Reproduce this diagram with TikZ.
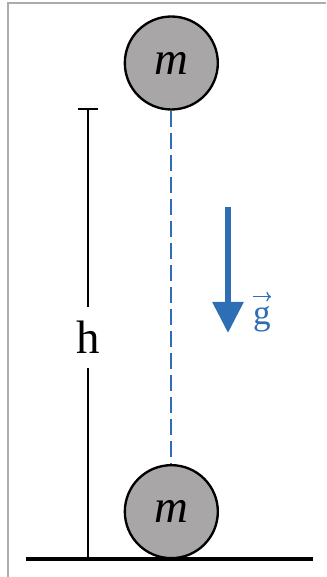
\documentclass[tikz,border=0pt]{standalone}
\usepackage{fontspec}
\setmainfont{Liberation Serif}
\usepackage{tikz}
\usetikzlibrary{arrows.meta}
\usepackage{xcolor}
\definecolor{gblue}{RGB}{46,110,180}
\definecolor{ballgray}{RGB}{168,166,166}
\definecolor{framegray}{RGB}{172,172,172}
\tikzset{
  ball/.style={circle,draw,line width=2pt,fill=ballgray,minimum size=2.79cm,inner sep=0pt,font=\fontsize{40}{40}\selectfont\itshape},
  tick/.style={line width=1.5pt}
}

\begin{document}
\begin{tikzpicture}[>={Triangle[length=9.3mm,width=9mm]}]
\useasboundingbox (0,0) rectangle (9.78,17.31);
\draw[framegray,line width=1.5pt] (0.24,0) |- (9.78,17.22);
% ground
\coordinate (gl) at (0.78,0.54);
\coordinate (gr) at (9.39,0.54);
\draw[line width=2.6pt] (gl) -- (gr);
% the two positions of the mass
\node[ball] (top) at (5.14,15.42) {m};
\node[ball] (bot) at (5.14,1.96) {m};
\draw[gblue,line width=1.8pt,dash pattern=on 4.8mm off 1.8mm] (top) -- (bot);
% height
\coordinate (hT) at (2.64,14.04);
\coordinate (hB) at (2.64,0.54);
\node[inner sep=0pt,minimum height=1.83cm,font=\fontsize{40}{40}\selectfont] (h) at (2.64,7.18) {h};
\draw[tick] (hT) -- (h.north);
\draw[tick] (h.south) -- (hB);
\draw[tick] ([xshift=-3mm]hT) -- ([xshift=3mm]hT);
\draw[line width=2pt] ([xshift=-3mm]hB) -- ([xshift=3mm]hB);
% gravity
\coordinate (gT) at (6.84,11.1);
\coordinate (gB) at (6.84,7.32);
\draw[->,gblue,line width=5pt] (gT) -- (gB);
\node[gblue,inner sep=0pt,font=\fontsize{30}{30}\selectfont] (g) at (7.86,7.74) {g};
\draw[gblue,line width=1pt,-{To[length=1.4mm]}] ([yshift=2.8mm]g.north west) -- ([yshift=2.8mm]g.north east);
\end{tikzpicture}
\end{document}
